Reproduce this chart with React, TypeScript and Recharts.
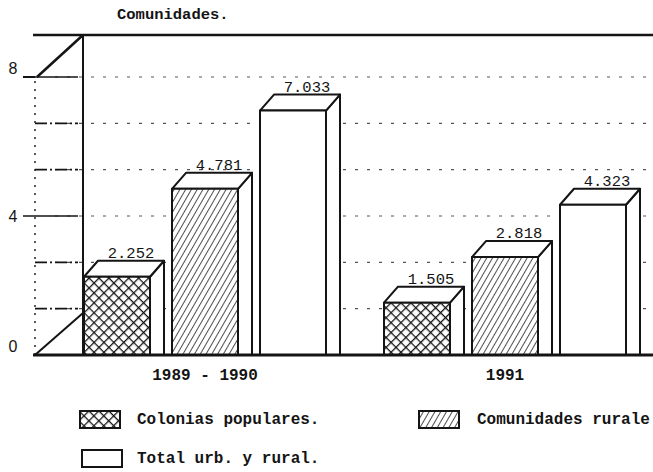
import React from 'react';
import { BarChart, Bar, XAxis, YAxis, CartesianGrid, ReferenceLine, LabelList } from 'recharts';

// values in thousands of communities
const periods = ['1989 - 1990', '1991'];
const coloniasPopulares = [2.252, 1.505];
const comunidadesRurales = [4.781, 2.818];
const totalUrbRural = [7.033, 4.323];
const yTicks = [0, 4 / 3, 8 / 3, 4, 16 / 3, 20 / 3, 8];
const yLabels = [0, 4, 8];

const data = periods.map((period, i) => ({
  period,
  colonias: coloniasPopulares[i],
  rurales: comunidadesRurales[i],
  total: totalUrbRural[i],
}));

// layout of the hand-drawn 3D frame
const W = 653;
const H = 472;
const FRONT_X = 35;
const BACK_X = 83;
const DEPTH_Y = 42;
const PLOT_TOP = 77;
const PLOT_BOTTOM = 355;
const PLOT_H = PLOT_BOTTOM - PLOT_TOP;
const DX = 14; // bar depth
const DY = 16;
const INK = '#141414';
const MONO = '"Liberation Mono", "DejaVu Sans Mono", monospace';

const BoxShape = (props: any) => {
  const { x, y, width: w, height: h, fill } = props;
  if (!h || h <= 0) return null;
  return (
    <g stroke={INK} strokeWidth={2} strokeLinejoin="round">
      <polygon
        points={`${x + w},${y} ${x + w + DX},${y - DY} ${x + w + DX},${y + h} ${x + w},${y + h}`}
        fill="#fff"
      />
      <polygon
        points={`${x},${y} ${x + DX},${y - DY} ${x + w + DX},${y - DY} ${x + w},${y}`}
        fill="#fff"
      />
      <rect x={x} y={y} width={w} height={h} fill={fill} />
    </g>
  );
};

const ValueLabel = (props: any) => {
  const { x, y, width, value } = props;
  return (
    <text
      x={x + width / 2 + DX}
      y={y - DY - 3}
      textAnchor="middle"
      fontFamily={MONO}
      fontSize={15.5}
      fill={INK}
    >
      {Number(value).toFixed(3)}
    </text>
  );
};

const YTick = (props: any) => {
  const { y, payload } = props;
  const v = payload.value;
  const labeled = yLabels.some((l) => Math.abs(l - v) < 1e-6);
  return (
    <g>
      {v > 0 && (
        <line
          x1={labeled ? FRONT_X - 12 : FRONT_X}
          x2={BACK_X - 5}
          y1={y}
          y2={y}
          stroke={INK}
          strokeWidth={1.6}
          strokeDasharray={labeled ? undefined : '12 3 2 3'}
        />
      )}
      {labeled && (
        <text
          x={13}
          y={v === 4 ? y : y - 9}
          textAnchor="middle"
          dominantBaseline="central"
          fontFamily='"Liberation Sans", sans-serif'
          fontSize={16}
          fill={INK}
        >
          {Math.round(v)}
        </text>
      )}
    </g>
  );
};

const XTick = (props: any) => {
  const { x, y, payload } = props;
  return (
    <text x={x} y={y} dy={17} textAnchor="middle" fontFamily={MONO} fontSize={16} fontWeight="bold" fill={INK}>
      {payload.value}
    </text>
  );
};

// top edge of the back wall + left diagonal + back vertical
const TopFrame = (p: any) => {
  const y = p.y1;
  return (
    <g stroke={INK} fill="none">
      <line x1={FRONT_X - 2} y1={y - DEPTH_Y} x2={W + 2} y2={y - DEPTH_Y} strokeWidth={2.5} />
      <line x1={FRONT_X - 12} y1={y} x2={FRONT_X} y2={y} strokeWidth={2} />
      <line x1={FRONT_X + 2} y1={y} x2={BACK_X} y2={y - DEPTH_Y} strokeWidth={2.5} />
      <line x1={BACK_X} y1={y - DEPTH_Y} x2={BACK_X} y2={y + PLOT_H} strokeWidth={2} />
    </g>
  );
};

// floor: baseline, floor diagonal and dotted front axis
const FloorFrame = (p: any) => {
  const y = p.y1;
  return (
    <g stroke={INK} fill="none">
      <line x1={FRONT_X - 2} y1={y} x2={W + 2} y2={y} strokeWidth={3} />
      <line x1={FRONT_X} y1={y} x2={BACK_X} y2={y - DEPTH_Y} strokeWidth={2} />
      <line x1={FRONT_X} y1={y} x2={FRONT_X} y2={y - PLOT_H} strokeWidth={1.4} strokeDasharray="2 6" />
    </g>
  );
};

const Patterns = () => (
  <svg width={0} height={0} style={{ position: 'absolute' }}>
    <defs>
      <pattern id="cross" width={7} height={7} patternUnits="userSpaceOnUse" patternTransform="rotate(45)">
        <rect width={7} height={7} fill="#fff" />
        <path d="M0 0H7M0 0V7" stroke={INK} strokeWidth={2.6} />
      </pattern>
      <pattern id="diag" width={5} height={5} patternUnits="userSpaceOnUse" patternTransform="rotate(30)">
        <rect width={5} height={5} fill="#fff" />
        <path d="M0 0V5" stroke={INK} strokeWidth={1.5} />
      </pattern>
    </defs>
  </svg>
);

const legendText: React.CSSProperties = {
  position: 'absolute',
  fontFamily: MONO,
  fontSize: 16,
  fontWeight: 'bold',
  color: INK,
  lineHeight: '18px',
  whiteSpace: 'nowrap',
};

const Swatch = ({ left, top, fill }: { left: number; top: number; fill: string }) => (
  <svg width={44} height={20} style={{ position: 'absolute', left, top }}>
    <rect x={1} y={1} width={40} height={17} fill={fill} stroke={INK} strokeWidth={2} />
  </svg>
);

export default function App() {
  return (
    <div style={{ position: 'fixed', left: 0, top: 0, width: W, height: H, overflow: 'hidden', background: '#fff' }}>
      <Patterns />
      <BarChart
        width={W + 2}
        height={H}
        data={data}
        margin={{ top: PLOT_TOP, right: 0, bottom: H - PLOT_BOTTOM - 30, left: 0 }}
        barSize={66}
        barGap={22}
      >
        <CartesianGrid vertical={false} stroke="#555" strokeWidth={1.2} strokeDasharray="3 9" />
        <XAxis dataKey="period" height={30} axisLine={false} tickLine={false} tick={<XTick />} />
        <YAxis
          width={55}
          domain={[0, 8]}
          ticks={yTicks}
          interval={0}
          axisLine={false}
          tickLine={false}
          tick={<YTick />}
        />
        <Bar dataKey="colonias" fill="url(#cross)" shape={<BoxShape />} isAnimationActive={false}>
          <LabelList dataKey="colonias" content={<ValueLabel />} />
        </Bar>
        <Bar dataKey="rurales" fill="url(#diag)" shape={<BoxShape />} isAnimationActive={false}>
          <LabelList dataKey="rurales" content={<ValueLabel />} />
        </Bar>
        <Bar dataKey="total" fill="#fff" shape={<BoxShape />} isAnimationActive={false}>
          <LabelList dataKey="total" content={<ValueLabel />} />
        </Bar>
        <ReferenceLine y={8} shape={<TopFrame />} />
        <ReferenceLine y={0} shape={<FloorFrame />} />
      </BarChart>

      <div style={{ ...legendText, left: 117, top: 6, fontSize: 15.5 }}>Comunidades.</div>

      <Swatch left={79} top={410} fill="url(#cross)" />
      <div style={{ ...legendText, left: 137, top: 411 }}>Colonias populares.</div>
      <Swatch left={418} top={410} fill="url(#diag)" />
      <div style={{ ...legendText, left: 477, top: 411 }}>Comunidades rurale</div>
      <Swatch left={81} top={449} fill="#fff" />
      <div style={{ ...legendText, left: 137, top: 450 }}>Total urb. y rural.</div>
    </div>
  );
}
